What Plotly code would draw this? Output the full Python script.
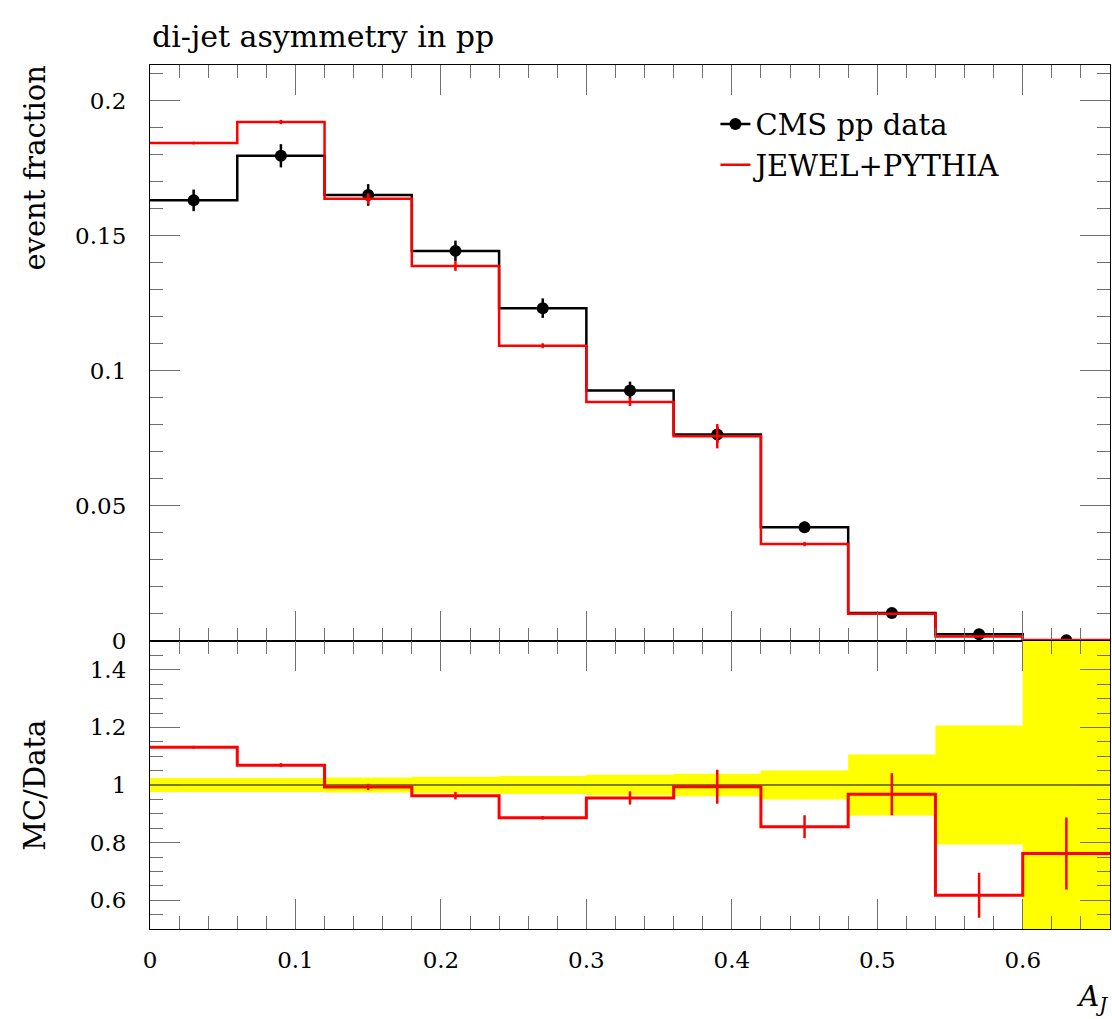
import plotly.graph_objects as go
from plotly.subplots import make_subplots

# ---- data ----
bin_edges = [0.0, 0.06, 0.12, 0.18, 0.24, 0.30, 0.36, 0.42, 0.48, 0.54, 0.60, 0.66]
bin_centers = [0.03, 0.09, 0.15, 0.21, 0.27, 0.33, 0.39, 0.45, 0.51, 0.57, 0.63]

data_y = [0.1631, 0.1796, 0.1651, 0.1444, 0.1232, 0.0927, 0.0764, 0.0421, 0.0104, 0.0025, 0.0003]
data_err = [0.0040, 0.0043, 0.0040, 0.0038, 0.0036, 0.0033, 0.0030, 0.0021, 0.0011, 0.0005, 0.0003]

mc_y = [0.1843, 0.1921, 0.1637, 0.1388, 0.1093, 0.0885, 0.0758, 0.0359, 0.0101, 0.0017, 0.0004]
mc_err = [0.0005, 0.0008, 0.0020, 0.0018, 0.0009, 0.0015, 0.0045, 0.0008, 0.0003, 0.0002, 0.0001]

ratio_y = [1.131, 1.069, 0.993, 0.963, 0.886, 0.955, 0.994, 0.855, 0.968, 0.617, 0.762]
ratio_err = [0.005, 0.007, 0.011, 0.013, 0.006, 0.023, 0.059, 0.040, 0.073, 0.078, 0.125]

data_relerr = [0.024, 0.024, 0.026, 0.029, 0.031, 0.036, 0.039, 0.050, 0.106, 0.207, 1.000]

FONT = "DejaVu Serif"


def step(vals):
    return list(vals) + [vals[-1]]


fig = make_subplots(rows=2, cols=1, shared_xaxes=True, vertical_spacing=0,
                    row_heights=[2 / 3, 1 / 3])

# ---- top panel ----
fig.add_trace(go.Scatter(x=bin_edges, y=step(data_y), mode="lines", line_shape="hv",
                         line=dict(color="black", width=2.5), showlegend=False,
                         hoverinfo="skip"), row=1, col=1)
fig.add_trace(go.Scatter(x=bin_centers, y=data_y, mode="markers",
                         marker=dict(color="black", size=12),
                         error_y=dict(type="data", array=data_err, color="black",
                                      thickness=2.5, width=0),
                         showlegend=False), row=1, col=1)
fig.add_trace(go.Scatter(x=bin_edges, y=step(mc_y), mode="lines", line_shape="hv",
                         line=dict(color="red", width=2.5), showlegend=False,
                         hoverinfo="skip"), row=1, col=1)
fig.add_trace(go.Scatter(x=bin_centers, y=mc_y, mode="markers",
                         marker=dict(color="red", size=1),
                         error_y=dict(type="data", array=mc_err, color="red",
                                      thickness=2.5, width=0),
                         showlegend=False), row=1, col=1)

# legend entries
fig.add_trace(go.Scatter(x=[None], y=[None], mode="lines+markers", name="CMS pp data",
                         line=dict(color="black", width=2.5),
                         marker=dict(color="black", size=12)), row=1, col=1)
fig.add_trace(go.Scatter(x=[None], y=[None], mode="lines", name="JEWEL+PYTHIA",
                         line=dict(color="red", width=2.5)), row=1, col=1)

# ---- ratio panel ----
band_lo = [1 - e for e in data_relerr]
band_hi = [1 + e for e in data_relerr]
fig.add_trace(go.Scatter(x=bin_edges, y=step(band_lo), mode="lines", line_shape="hv",
                         line=dict(width=0, color="yellow"), showlegend=False,
                         hoverinfo="skip"), row=2, col=1)
fig.add_trace(go.Scatter(x=bin_edges, y=step(band_hi), mode="lines", line_shape="hv",
                         line=dict(width=0, color="yellow"), fill="tonexty",
                         fillcolor="yellow", showlegend=False, hoverinfo="skip"),
              row=2, col=1)
fig.add_trace(go.Scatter(x=[bin_edges[0], bin_edges[-1]], y=[1, 1], mode="lines",
                         line=dict(color="black", width=1), showlegend=False,
                         hoverinfo="skip"), row=2, col=1)
fig.add_trace(go.Scatter(x=bin_edges, y=step(ratio_y), mode="lines", line_shape="hv",
                         line=dict(color="red", width=3), showlegend=False,
                         hoverinfo="skip"), row=2, col=1)
fig.add_trace(go.Scatter(x=bin_centers, y=ratio_y, mode="markers",
                         marker=dict(color="red", size=1),
                         error_y=dict(type="data", array=ratio_err, color="red",
                                      thickness=2.5, width=0),
                         showlegend=False), row=2, col=1)

axis_common = dict(showline=True, linecolor="black", linewidth=1.2, mirror="allticks",
                   ticks="inside", ticklen=30, tickwidth=1.2, tickcolor="#707070",
                   showgrid=False, zeroline=False,
                   tickfont=dict(family=FONT, size=23, color="black"))

fig.update_xaxes(range=[0, 0.66], tick0=0, dtick=0.1,
                 minor=dict(ticks="inside", ticklen=13, dtick=0.02, tickwidth=1.2,
                            tickcolor="#707070", showgrid=False),
                 **axis_common)
fig.update_xaxes(showticklabels=False, row=1, col=1)
fig.update_xaxes(ticklabelstandoff=10, row=2, col=1)

fig.update_yaxes(range=[0, 0.2132], tick0=0, dtick=0.05,
                 minor=dict(ticks="inside", ticklen=13, dtick=0.01, tickwidth=1.2,
                            tickcolor="#707070", showgrid=False),
                 ticklabelstandoff=18, row=1, col=1, **axis_common)
fig.update_yaxes(range=[0.5, 1.5], tick0=0.6, dtick=0.2, tickvals=[0.6, 0.8, 1, 1.2, 1.4],
                 minor=dict(ticks="inside", ticklen=13, dtick=0.05, tickwidth=1.2,
                            tickcolor="#707070", showgrid=False),
                 ticklabelstandoff=18, row=2, col=1, **axis_common)

fig.update_layout(
    width=1112, height=1019,
    margin=dict(l=150, r=2, t=65, b=90),
    paper_bgcolor="white", plot_bgcolor="white",
    font=dict(family=FONT, color="black"),
    title=dict(text="di-jet asymmetry in pp", x=152 / 1112, xanchor="left",
               xref="container", yref="container", y=1 - 36 / 1019, yanchor="middle",
               font=dict(family=FONT, size=30, color="black")),
    legend=dict(x=0.589, y=0.961, xanchor="left", yanchor="top", traceorder="normal",
                bgcolor="rgba(0,0,0,0)", font=dict(family=FONT, size=29, color="black"),
                tracegroupgap=0),
    annotations=[
        dict(text="event fraction", textangle=-90, xref="paper", yref="paper",
             x=-0.12, y=0.881, xanchor="center", yanchor="middle", showarrow=False,
             font=dict(family=FONT, size=29, color="black")),
        dict(text="MC/Data", textangle=-90, xref="paper", yref="paper",
             x=-0.12, y=0.1667, xanchor="center", yanchor="middle", showarrow=False,
             font=dict(family=FONT, size=29, color="black")),
        dict(text="<i>A</i><sub><i>J</i></sub>", xref="paper", yref="paper",
             x=1.0, y=-0.08, xanchor="right", yanchor="middle", showarrow=False,
             font=dict(family=FONT, size=28, color="black")),
    ],
)

fig.write_html("out.html")
